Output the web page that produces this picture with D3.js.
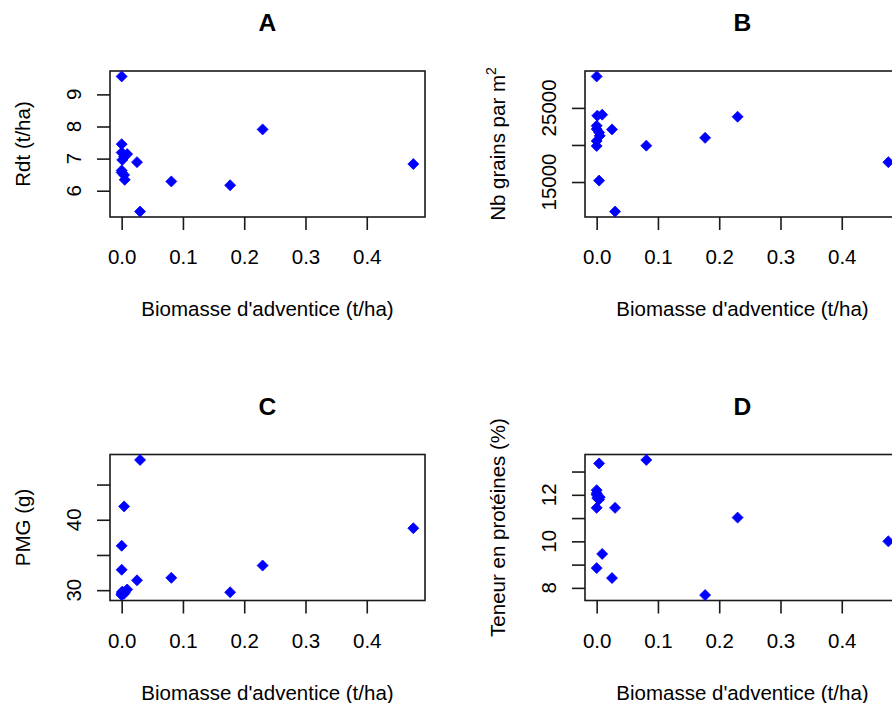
<!DOCTYPE html>
<html>
<head>
<meta charset="utf-8">
<script src="https://cdn.jsdelivr.net/npm/d3@7"></script>
<style>
  html, body { margin: 0; padding: 0; background: #ffffff; }
  svg { display: block; }
  text { font-family: "Liberation Sans", Arial, sans-serif; fill: #000; }
</style>
</head>
<body>
<svg id="chart" width="892" height="703"></svg>
<script>
// Weed biomass (t/ha) for each plot, shared by all four panels
const biomass = [0, 0, 0, 0.001, 0, 0, 0.004, 0.004, 0.005, 0.009, 0.025, 0.030, 0.081, 0.177, 0.230, 0.476];

// Responses measured on the same plots
const rdt      = [9.56, 7.45, 7.19, 6.96, 6.63, 6.57, 7.06, 6.49, 6.34, 7.14, 6.89, 5.35, 6.29, 6.17, 7.91, 6.83];
const nbGrains = [29250, 22140, 22590, 23950, 20540, 19860, 21690, 15190, 21230, 24090, 22100, 11010, 19910, 20960, 23810, 17680];
const pmg      = [36.3, 32.9, 29.3, 29.8, 29.6, 29.4, 41.9, 29.5, 29.7, 30.1, 31.4, 48.5, 31.75, 29.7, 33.5, 38.8];
const proteins = [12.2, 12.07, 11.44, 11.86, 8.85, 12.0, 13.35, 11.8, 11.9, 9.46, 8.42, 11.44, 13.5, 7.69, 11.02, 10.0];

// Axis ticks and which of them carry a label
const xTicks = [0, 0.1, 0.2, 0.3, 0.4];
const xTickLabels = ["0.0", "0.1", "0.2", "0.3", "0.4"];
const rdtTicks = [6, 7, 8, 9],              rdtLabels = [6, 7, 8, 9];
const grainsTicks = [15000, 20000, 25000],  grainsLabels = [15000, 25000];
const pmgTicks = [30, 35, 40, 45],          pmgLabels = [30, 40];
const protTicks = [8, 9, 10, 11, 12, 13],   protLabels = [8, 10, 12];

const panelTitles = ["A", "B", "C", "D"];
const xTitle = "Biomasse d'adventice (t/ha)";
const yTitles = ["Rdt (t/ha)", "Nb grains par m", "PMG (g)", "Teneur en protéines (%)"];

const panels = [
  { title: panelTitles[0], y: rdt,      ticks: rdtTicks,    labels: rdtLabels,    ylab: yTitles[0], col: 0, row: 0 },
  { title: panelTitles[1], y: nbGrains, ticks: grainsTicks, labels: grainsLabels, ylab: yTitles[1], sup: "2", col: 1, row: 0 },
  { title: panelTitles[2], y: pmg,      ticks: pmgTicks,    labels: pmgLabels,    ylab: yTitles[2], col: 0, row: 1 },
  { title: panelTitles[3], y: proteins, ticks: protTicks,   labels: protLabels,   ylab: yTitles[3], col: 1, row: 1 }
];

const svg = d3.select("#chart");
const boxW = 315, boxH = 146;
const left0 = 110, top0 = 71;
const colStep = 475, rowStep = 383.5;
const baseFont = 20.5, titleFont = 24.6;
const tickLen = 13;

// Range padded by 4% on each side
function padded(vals) {
  const lo = d3.min(vals), hi = d3.max(vals);
  const p = (hi - lo) * 0.04;
  return [lo - p, hi + p];
}

// Filled diamond marker
function diamond(r) {
  const p = d3.path();
  p.moveTo(0, -r); p.lineTo(r, 0); p.lineTo(0, r); p.lineTo(-r, 0); p.closePath();
  return p.toString();
}

panels.forEach(pn => {
  const x0 = left0 + pn.col * colStep;
  const y0 = top0 + pn.row * rowStep;
  const g = svg.append("g").attr("transform", `translate(${x0},${y0})`);

  const xs = d3.scaleLinear().domain(padded(biomass)).range([0, boxW]);
  const ys = d3.scaleLinear().domain(padded(pn.y)).range([boxH, 0]);

  // x axis ticks and labels
  const xAxis = d3.axisBottom(xs).tickValues(xTicks).tickSize(tickLen)
    .tickFormat((d, i) => xTickLabels[i]);
  const gx = g.append("g").attr("transform", `translate(0,${boxH})`).call(xAxis);
  gx.select(".domain").remove();
  gx.selectAll(".tick line").attr("stroke", "#1a1a1a").attr("stroke-width", 1.6);
  gx.selectAll(".tick text").attr("font-size", baseFont).attr("fill", "#000")
    .attr("font-family", "Liberation Sans, Arial, sans-serif")
    .attr("y", 47).attr("dy", null);

  // y axis ticks, labels written parallel to the axis
  const yAxis = d3.axisLeft(ys).tickValues(pn.ticks).tickSize(tickLen).tickFormat("");
  const gy = g.append("g").call(yAxis);
  gy.select(".domain").remove();
  gy.selectAll(".tick line").attr("stroke", "#1a1a1a").attr("stroke-width", 1.6);
  g.append("g").selectAll("text").data(pn.labels).join("text")
    .attr("transform", d => `translate(-29,${ys(d)}) rotate(-90)`)
    .attr("text-anchor", "middle")
    .attr("font-size", baseFont)
    .text(d => String(d));

  // plot frame
  g.append("rect").attr("x", 0).attr("y", 0).attr("width", boxW).attr("height", boxH)
    .attr("fill", "none").attr("stroke", "#1a1a1a").attr("stroke-width", 1.6);

  // points
  g.append("g").selectAll("path").data(pn.y).join("path")
    .attr("d", diamond(5.5))
    .attr("transform", (d, i) => `translate(${xs(biomass[i])},${ys(d)})`)
    .attr("fill", "#0000ff")
    .attr("stroke", "#0000ff").attr("stroke-width", 0.8).attr("stroke-linejoin", "round");

  // panel title
  g.append("text").attr("x", boxW / 2).attr("y", -40)
    .attr("text-anchor", "middle").attr("font-size", titleFont).attr("font-weight", "bold")
    .text(pn.title);

  // x axis title
  g.append("text").attr("x", boxW / 2).attr("y", boxH + 99)
    .attr("text-anchor", "middle").attr("font-size", baseFont)
    .text(xTitle);

  // y axis title
  const yt = g.append("text")
    .attr("transform", `translate(-80,${boxH / 2}) rotate(-90)`)
    .attr("text-anchor", "middle").attr("font-size", baseFont)
    .text(pn.ylab);
  if (pn.sup) {
    yt.append("tspan").attr("font-size", 14).attr("dy", -9).text(pn.sup);
  }
});
</script>
</body>
</html>
